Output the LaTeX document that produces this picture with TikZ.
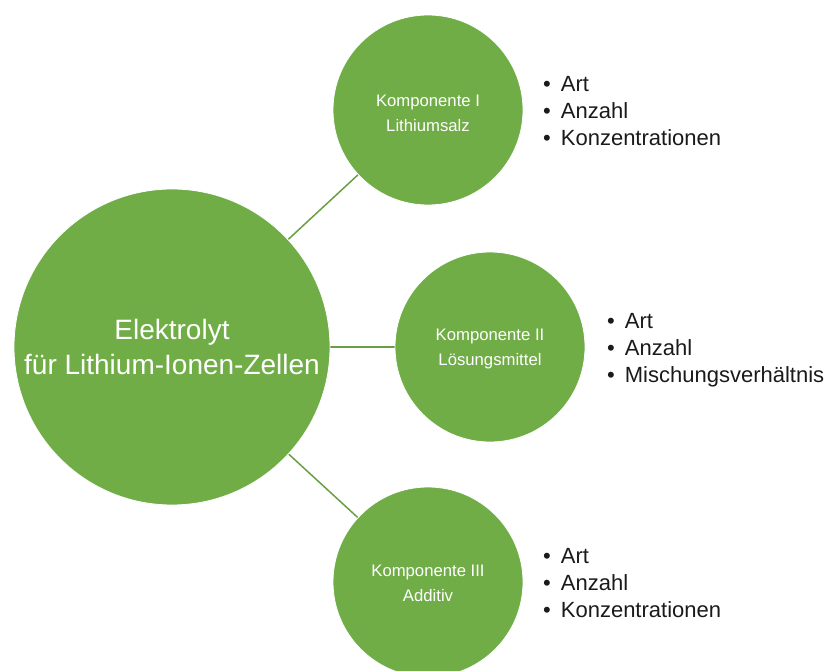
\documentclass[tikz,border=0pt]{standalone}
\usepackage{fontspec}
\setmainfont{Liberation Sans}
\definecolor{cgreen}{HTML}{70AD47}
\definecolor{lgreen}{HTML}{6A9E45}
\definecolor{txt}{HTML}{1A1A1A}
\tikzset{
  bigc/.style={circle, fill=cgreen, draw=white, line width=0.8pt, inner sep=0pt, minimum size=316pt, text=white, align=center, font=\fontsize{28}{35}\selectfont},
  smallc/.style={circle, fill=cgreen, draw=white, line width=0.8pt, inner sep=0pt, minimum size=190pt},
  smalltxt/.style={inner sep=0pt, text=white, align=center, font=\fontsize{16.7}{25}\selectfont},
  conn/.style={draw=lgreen, line width=1.5pt},
  blist/.style={anchor=west, inner sep=0pt, text=txt, font=\fontsize{22}{27.3}\selectfont}
}
\newcommand{\blst}[3]{\begin{tabular}{@{}l@{\hspace{10pt}}l@{}}\textbullet & #1\\ \textbullet & #2\\ \textbullet & #3\end{tabular}}
\begin{document}
\begin{tikzpicture}[x=1pt,y=-1pt]
\useasboundingbox (0,0) rectangle (829,671);
\clip (0,0) rectangle (829,671);
\coordinate (cm) at (172,347);
\coordinate (c1) at (428,110);
\coordinate (c2) at (490,347);
\coordinate (c3) at (428,582);
\draw[conn] (cm) -- (c1);
\draw[conn] (cm) -- (c2);
\draw[conn] (cm) -- (c3);
\node[bigc] (main) at (cm) {Elektrolyt\\für Lithium-Ionen-Zellen};
\node[smallc] (k1) at (c1) {};
\node[smallc] (k2) at (c2) {};
\node[smallc] (k3) at (c3) {};
\node[smalltxt] (t1) at ([yshift=-3pt]k1.center) {Komponente I\\Lithiumsalz};
\node[smalltxt] (t2) at ([yshift=-2pt]k2.center) {Komponente II\\Lösungsmittel};
\node[smalltxt] (t3) at ([yshift=-1pt]k3.center) {Komponente III\\Additiv};
\node[blist] (l1) at (543,113) {\blst{Art}{Anzahl}{Konzentrationen}};
\node[blist] (l2) at (607,350) {\blst{Art}{Anzahl}{Mischungsverhältnis}};
\node[blist] (l3) at (543,585) {\blst{Art}{Anzahl}{Konzentrationen}};
\end{tikzpicture}
\end{document}
